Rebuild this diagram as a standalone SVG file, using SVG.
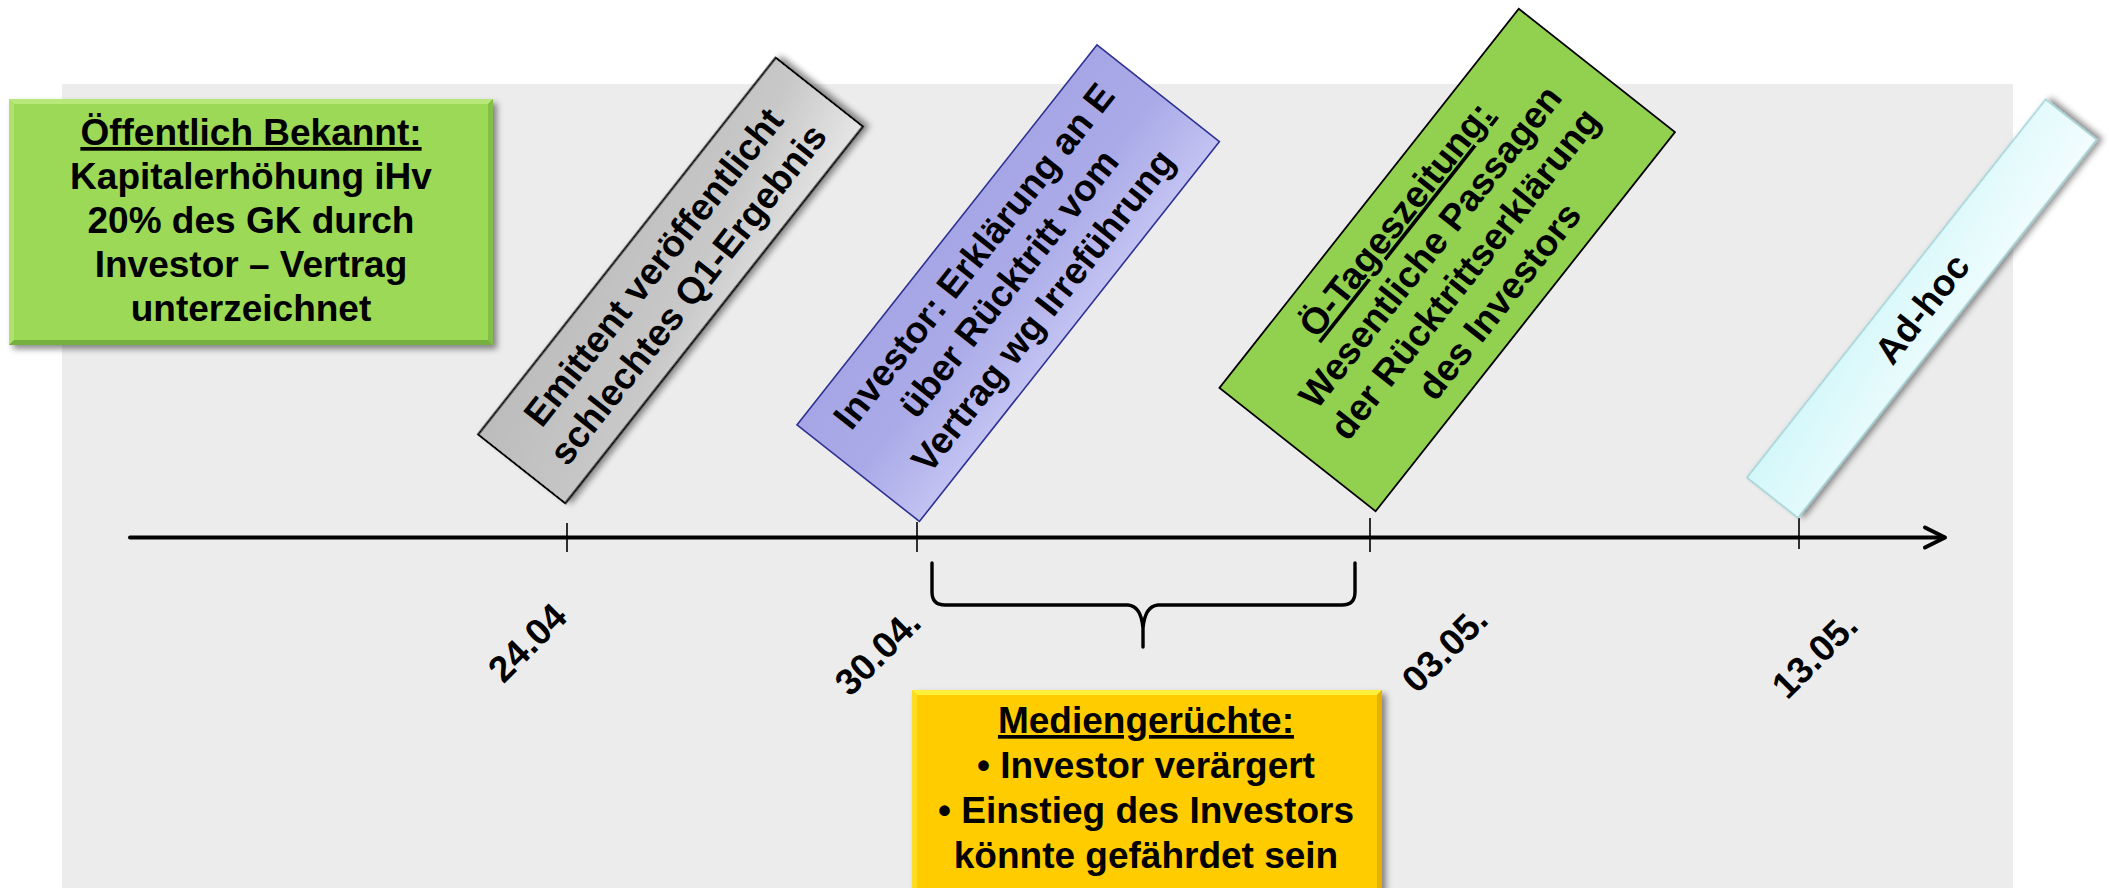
<svg xmlns="http://www.w3.org/2000/svg" width="2109" height="888" viewBox="0 0 2109 888">
  <style>
    .t { font-family: "Liberation Sans", Arial, sans-serif; font-weight: bold; font-size: 37px; fill: #000; text-anchor: middle; }
    .d { font-family: "Liberation Sans", Arial, sans-serif; font-weight: bold; font-size: 37px; fill: #000; text-anchor: end; }
    .u { text-decoration: underline; }
    .ax { stroke: #000; stroke-width: 4; fill: none; stroke-linecap: round; stroke-linejoin: round; }
    .tick { stroke: #000; stroke-width: 1.6; fill: none; }
    .brace { stroke: #000; stroke-width: 3.4; fill: none; stroke-linecap: round; stroke-linejoin: round; }
  </style>
  <defs>
    <filter id="sh" x="-20%" y="-20%" width="140%" height="140%">
      <feDropShadow dx="4" dy="4" stdDeviation="3" flood-color="#000" flood-opacity="0.45"/>
    </filter>
    <linearGradient id="gGray" x1="0" y1="0" x2="1" y2="1">
      <stop offset="0" stop-color="#bcbcbc"/>
      <stop offset="0.6" stop-color="#c8c8c8"/>
      <stop offset="1" stop-color="#e6e6e6"/>
    </linearGradient>
    <linearGradient id="gBlue" x1="0" y1="0" x2="0" y2="1">
      <stop offset="0" stop-color="#a6a6e6"/>
      <stop offset="0.5" stop-color="#aaaae8"/>
      <stop offset="1" stop-color="#c2c2f2"/>
    </linearGradient>
    <linearGradient id="gCyan" x1="0" y1="0" x2="1" y2="1">
      <stop offset="0" stop-color="#d3f7fa"/>
      <stop offset="1" stop-color="#f3fdfe"/>
    </linearGradient>
  </defs>

  <rect id="background" x="62" y="84" width="1951" height="804" fill="#ececec"/>

  <g id="connectors">
    <line class="ax" x1="130" y1="537.5" x2="1944" y2="537.5"/>
    <polyline class="ax" points="1925,527.5 1945,537.5 1925,547.5"/>
    <line class="tick" x1="567" y1="523" x2="567" y2="552"/>
    <line class="tick" x1="917" y1="522" x2="917" y2="552"/>
    <line class="tick" x1="1370" y1="518" x2="1370" y2="552"/>
    <line class="tick" x1="1799" y1="518" x2="1799" y2="549"/>
    <path class="brace" d="M 932 563 L 932 592 Q 932 605 945 605 L 1128 605 Q 1141 606 1143 628 L 1143 647 L 1143 628 Q 1145 606 1158 605 L 1342 605 Q 1355 605 1355 592 L 1355 563"/>
  </g>

  <g id="dates">
    <text class="d" transform="translate(569,619) rotate(-45)">24.04</text>
    <text class="d" transform="translate(923,625) rotate(-45)">30.04.</text>
    <text class="d" transform="translate(1490,622) rotate(-45)">03.05.</text>
    <text class="d" transform="translate(1860,628) rotate(-45)">13.05.</text>
  </g>

  <g id="node-oeffentlich">
    <rect x="9" y="99" width="484" height="246" fill="#9bd956" filter="url(#sh)"/>
    <polygon points="9,99 493,99 488,104 14,104" fill="#b9e87a"/>
    <polygon points="9,99 14,104 14,340 9,345" fill="#aee26a"/>
    <polygon points="493,99 493,345 488,340 488,104" fill="#82bf46"/>
    <polygon points="9,345 493,345 488,340 14,340" fill="#76b03e"/>
    <text class="t u" x="251" y="145">Öffentlich Bekannt:</text>
    <text class="t" x="251" y="189">Kapitalerhöhung iHv</text>
    <text class="t" x="251" y="233">20% des GK durch</text>
    <text class="t" x="251" y="277">Investor – Vertrag</text>
    <text class="t" x="251" y="321">unterzeichnet</text>
  </g>

  <g id="node-emittent" transform="translate(670.5,280.5) rotate(-51.7)">
    <rect x="-240" y="-55.5" width="480" height="111" fill="url(#gGray)" stroke="#000" stroke-width="2" filter="url(#sh)"/>
    <text class="t" x="0" y="-9">Emittent veröffentlicht</text>
    <text class="t" x="0" y="35">schlechtes Q1-Ergebnis</text>
  </g>

  <g id="node-investor" transform="translate(1008.2,283.2) rotate(-51.7)">
    <rect x="-242" y="-78" width="484" height="156" fill="url(#gBlue)" stroke="#2e3192" stroke-width="1.6"/>
    <text class="t" x="0" y="-31">Investor: Erklärung an E</text>
    <text class="t" x="0" y="13">über Rücktritt vom</text>
    <text class="t" x="0" y="57">Vertrag wg Irreführung</text>
  </g>

  <g id="node-tageszeitung" transform="translate(1447.2,260) rotate(-51.7)">
    <rect x="-241.5" y="-99.5" width="483" height="199" fill="#92d050" stroke="#000" stroke-width="1.8"/>
    <text class="t u" x="0" y="-53">Ö-Tageszeitung:</text>
    <text class="t" x="0" y="-9">Wesentliche Passagen</text>
    <text class="t" x="0" y="35">der Rücktrittserklärung</text>
    <text class="t" x="0" y="79">des Investors</text>
  </g>

  <g id="node-adhoc" transform="translate(1921.75,308.6) rotate(-51.7)">
    <rect x="-241" y="-32.5" width="482" height="65" fill="url(#gCyan)" stroke="#9fd0d3" stroke-width="1.5" filter="url(#sh)"/>
    <text class="t" x="0" y="13">Ad-hoc</text>
  </g>

  <g id="node-medien">
    <rect x="912" y="690" width="470" height="210" fill="#ffcc00" filter="url(#sh)"/>
    <polygon points="912,690 1382,690 1377,695 917,695" fill="#fff03c"/>
    <polygon points="912,690 917,695 917,900 912,900" fill="#ffdd22"/>
    <polygon points="1382,690 1382,900 1377,900 1377,695" fill="#e6b000"/>
    <text class="t u" x="1146" y="733">Mediengerüchte:</text>
    <text class="t" x="1146" y="778">• Investor verärgert</text>
    <text class="t" x="1146" y="823">• Einstieg des Investors</text>
    <text class="t" x="1146" y="868">könnte gefährdet sein</text>
  </g>
</svg>
